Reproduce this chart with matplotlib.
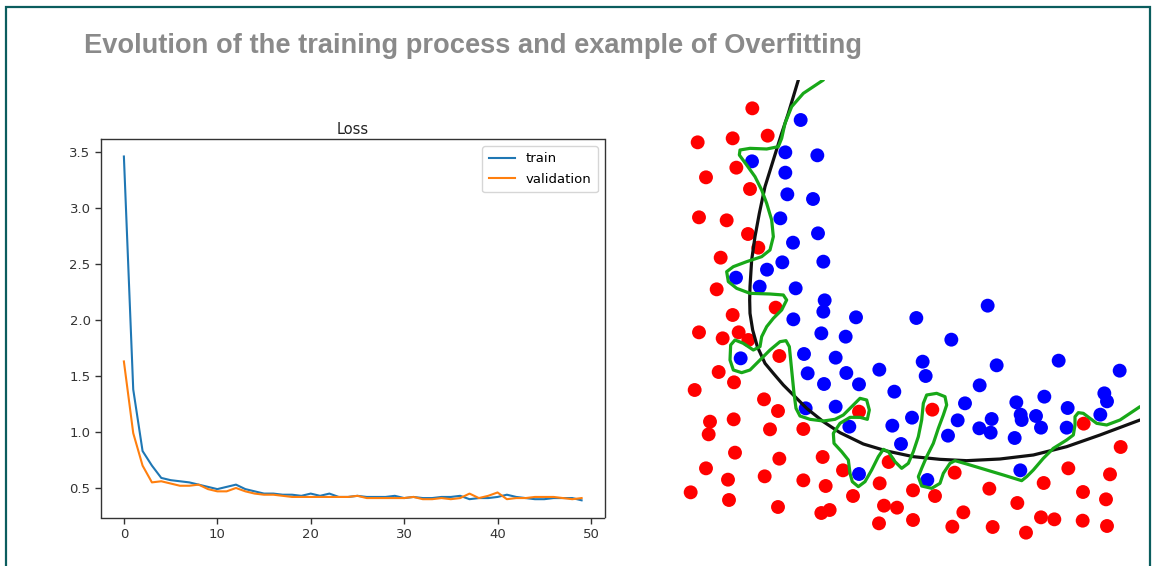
import matplotlib
matplotlib.use("Agg")
import matplotlib.pyplot as plt
from matplotlib.patches import Rectangle

# ---- training history ----
epochs = list(range(50))
train_loss = [3.46, 1.38, 0.83, 0.70, 0.59, 0.57, 0.56, 0.55, 0.53, 0.51,
              0.49, 0.51, 0.53, 0.49, 0.47, 0.45, 0.45, 0.44, 0.44, 0.43,
              0.45, 0.43, 0.45, 0.42, 0.42, 0.43, 0.42, 0.42, 0.42, 0.43,
              0.41, 0.42, 0.41, 0.41, 0.42, 0.42, 0.43, 0.40, 0.41, 0.41,
              0.42, 0.44, 0.42, 0.41, 0.40, 0.40, 0.41, 0.41, 0.41, 0.39]
val_loss = [1.63, 0.99, 0.70, 0.55, 0.56, 0.54, 0.52, 0.52, 0.53, 0.49,
            0.47, 0.47, 0.50, 0.47, 0.45, 0.44, 0.44, 0.43, 0.42, 0.42,
            0.42, 0.42, 0.42, 0.42, 0.42, 0.43, 0.41, 0.41, 0.41, 0.41,
            0.41, 0.42, 0.40, 0.40, 0.41, 0.40, 0.41, 0.45, 0.41, 0.43,
            0.46, 0.40, 0.41, 0.41, 0.42, 0.42, 0.42, 0.41, 0.40, 0.41]
loss_yticks = [0.5, 1.0, 1.5, 2.0, 2.5, 3.0, 3.5]
loss_xticks = [0, 10, 20, 30, 40, 50]

# ---- two-class sample (feature plane, x2 grows downward) ----
red_x1 = [277, 113, 218, 323, 229, 138, 270, 117, 200, 264, 295, 182, 170, 347, 218,
          117, 188, 236, 265, 358, 176, 222, 104, 312, 354, 150, 221, 146, 330, 430,
          225, 358, 488, 138, 204, 314, 430, 497, 92, 207, 354, 484, 509, 549, 579,
          597, 686, 659, 672, 711, 657, 759, 759, 817, 825, 884, 910, 877, 988, 998,
          1072, 1098, 1143, 1183, 1151, 1225, 1269, 1268, 1338, 1341, 1350, 1271, 1382]
red_x2 = [85, 187, 175, 167, 263, 292, 327, 412, 421, 462, 503, 533, 628, 683, 705,
          757, 775, 757, 780, 828, 876, 907, 930, 958, 993, 1025, 1018, 1063, 1048, 1047,
          1118, 1136, 1131, 1165, 1199, 1189, 1201, 1218, 1237, 1260, 1281, 1299, 1290, 1171, 1248,
          995, 1146, 1210, 1277, 1283, 1330, 1231, 1320, 989, 1248, 1178, 1297, 1340, 1226, 1341,
          1269, 1358, 1312, 1318, 1209, 1165, 1236, 1322, 1258, 1338, 1183, 1031, 1101]

blue_x1 = [422, 376, 472, 276, 376, 382, 459, 361, 474, 399, 367, 490, 321, 228, 299,
           407, 494, 490, 588, 400, 769, 983, 484, 557, 874, 242, 432, 527, 788, 1010,
           1196, 443, 559, 658, 797, 1379, 492, 597, 959, 703, 437, 527, 915, 1069, 1153,
           1223, 1333, 1341, 568, 697, 756, 893, 1082, 1085, 1128, 995, 958, 992, 1143, 1220,
           1321, 864, 1064, 723, 597, 802, 1081]
blue_x2 = [120, 217, 226, 244, 278, 343, 357, 415, 460, 488, 547, 545, 569, 593, 620,
           625, 661, 695, 712, 718, 714, 677, 760, 770, 779, 835, 822, 833, 845, 856,
           842, 880, 879, 869, 888, 872, 912, 913, 916, 935, 985, 980, 970, 967, 950,
           984, 940, 964, 1040, 1037, 1013, 1021, 1004, 1020, 1008, 1017, 1045, 1058, 1043, 1043,
           1004, 1067, 1074, 1092, 1182, 1200, 1171]

# smooth decision boundary
bound_x1 = [415, 400, 385, 365, 340, 315, 298, 285, 275, 270, 269, 270, 278, 292, 315,
            340, 370, 400, 440, 490, 540, 610, 680, 760, 840, 920, 1020, 1120, 1220, 1320, 1440]
bound_x2 = [0, 50, 100, 160, 240, 320, 400, 470, 540, 620, 660, 700, 750, 800, 850,
            880, 915, 945, 985, 1025, 1058, 1092, 1113, 1130, 1138, 1142, 1137, 1125, 1100, 1065, 1020]

# overfitted boundary
over_x1 = [490, 430, 395, 375, 365, 355, 320, 270, 240, 238, 260, 285, 305, 320, 335,
           340, 330, 305, 260, 220, 200, 205, 230, 270, 330, 370, 380, 365, 340, 320,
           305, 300, 280, 250, 225, 212, 210, 220, 245, 270, 300, 330, 360, 378, 388,
           392, 397, 402, 408, 420, 450, 490, 525, 550, 575, 600, 620, 628, 622, 600,
           570, 540, 520, 522, 545, 565, 570, 577, 595, 615, 635, 655, 670, 685, 705,
           725, 745, 760, 775, 785, 790, 800, 830, 855, 860, 850, 835, 820, 800, 785,
           775, 785, 815, 840, 850, 870, 885, 920, 980, 1030, 1085, 1100, 1120, 1150, 1180,
           1220, 1240, 1245, 1245, 1255, 1270, 1290, 1310, 1340, 1380, 1410, 1440]
over_x2 = [0, 40, 80, 130, 175, 200, 207, 205, 210, 225, 255, 290, 330, 370, 420,
           470, 510, 530, 545, 560, 575, 605, 625, 640, 642, 645, 660, 690, 715, 740,
           770, 800, 810, 790, 780, 795, 840, 870, 878, 870, 840, 810, 785, 782, 800,
           840, 890, 940, 985, 1008, 1018, 1023, 1018, 1005, 980, 955, 960, 990, 1018, 1012,
           1012, 1030, 1060, 1090, 1115, 1140, 1180, 1205, 1220, 1205, 1170, 1130, 1108, 1115, 1145,
           1165, 1150, 1115, 1070, 1020, 970, 945, 940, 950, 975, 1005, 1045, 1090, 1130, 1165,
           1190, 1218, 1225, 1210, 1180, 1150, 1142, 1152, 1170, 1185, 1202, 1190, 1170, 1135, 1105,
           1080, 1065, 1035, 1010, 998, 1000, 1015, 1030, 1035, 1020, 1000, 980]

W, H = 1155, 566
fig = plt.figure(figsize=(W / 100, H / 100), dpi=100)
fig.patch.set_facecolor("white")

# page frame
fig.patches.append(Rectangle((6 / W, -0.05), (1150 - 6) / W, (H - 7) / H + 0.05,
                             transform=fig.transFigure, fill=False,
                             edgecolor="#0b5d5e", linewidth=1.6))

title = fig.text(84 / W, 1 - 46 / H,
                 "Evolution of the training process and example of Overfitting",
                 ha="left", va="center", fontsize=17, fontweight="bold",
                 color="#8a8a8a", family="Liberation Sans")
fig.canvas.draw()
bb = title.get_window_extent(fig.canvas.get_renderer())
title.set_fontsize(17 * 778 / bb.width)

# ---- loss curves ----
ax = fig.add_axes([101 / W, 1 - 517.5 / H, (604.5 - 101) / W, (517.5 - 139.3) / H])
ax.plot(epochs, train_loss, color="#1f77b4", lw=1.5, label="train")
ax.plot(epochs, val_loss, color="#ff7f0e", lw=1.5, label="validation")
ax.set_yticks(loss_yticks)
ax.set_xticks(loss_xticks)
ax.tick_params(labelsize=9.5, colors="#333333", length=4, width=1.0)
for s in ax.spines.values():
    s.set_color("#333333")
    s.set_linewidth(1.0)
ax.set_title("Loss", fontsize=10.5, color="#222222", pad=4)
leg = ax.legend(loc="upper right", fontsize=9.5, frameon=True, handlelength=2.0,
                borderpad=0.5, labelspacing=0.55)
leg.get_frame().set_edgecolor("#cccccc")

# ---- overfitting illustration ----
ax2 = fig.add_axes([660 / W, 1 - 550 / H, 480 / W, 470 / H])
ax2.scatter(red_x1, red_x2, s=100, color="#ff0000", edgecolors="none", zorder=2)
ax2.scatter(blue_x1, blue_x2, s=100, color="#0000ff", edgecolors="none", zorder=2)
ax2.plot(bound_x1, bound_x2, color="#111111", lw=2.3, solid_joinstyle="round",
         solid_capstyle="round", zorder=3)
ax2.plot(over_x1, over_x2, color="#18a818", lw=2.3, solid_joinstyle="round",
         solid_capstyle="round", zorder=4)
ax2.set_xlim(0, 1440)
ax2.set_ylim(1410, 0)
ax2.axis("off")

fig.savefig("out.png", dpi=100, facecolor="white")
